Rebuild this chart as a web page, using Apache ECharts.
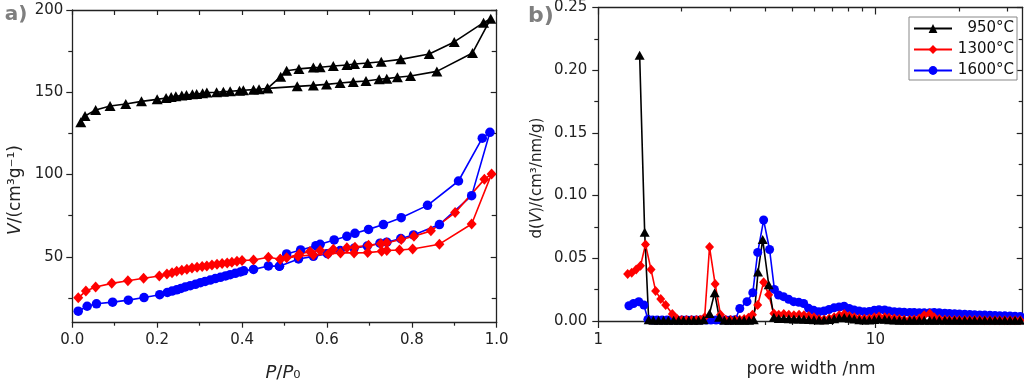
<!DOCTYPE html>
<html><head><meta charset="utf-8">
<script src="https://cdn.jsdelivr.net/npm/echarts@6/dist/echarts.min.js"></script>
<style>html,body{margin:0;padding:0;background:#fff}#c{width:1024px;height:386px}</style>
</head><body><div id="c"></div>
<script>
const names = ['950°C', '1300°C', '1600°C'];
const colors = ['#000000', '#ff0000', '#0000ff'];
const symbols = ['triangle', 'diamond', 'circle'];

// ---- (a) N2 isotherms: relative pressure P/P0, V (cm3/g) ----
const p950Ads = [0.020,0.030,0.055,0.089,0.126,0.163,0.200,0.221,0.233,0.244,0.258,0.269,0.283,0.293,0.307,0.317,0.340,0.356,0.372,0.394,0.403,0.427,0.440,0.460,0.530,0.568,0.599,0.631,0.662,0.692,0.723,0.741,0.766,0.797,0.859,0.943,0.986];
const v950Ads = [131.8,135.6,139.3,141.7,142.9,144.5,145.7,146.5,147.1,147.6,148.0,148.4,148.8,149.0,149.4,149.8,150.0,150.4,150.6,151.0,151.2,151.6,151.8,152.4,153.6,154.2,154.8,155.6,156.3,156.9,157.9,158.3,159.1,159.9,162.7,173.9,194.7];
const p950Des = [0.969,0.900,0.841,0.774,0.728,0.696,0.665,0.647,0.615,0.584,0.568,0.534,0.505,0.491,0.460];
const v950Des = [192.3,180.6,173.3,170.0,168.6,167.8,167.2,166.6,166.0,165.2,165.0,164.2,163.1,159.5,152.4];

const p1300Ads = [0.014,0.032,0.055,0.093,0.131,0.168,0.205,0.223,0.235,0.246,0.258,0.270,0.282,0.294,0.306,0.317,0.329,0.341,0.353,0.365,0.376,0.388,0.400,0.427,0.462,0.490,0.532,0.568,0.603,0.632,0.664,0.696,0.729,0.741,0.771,0.802,0.865,0.941,0.988];
const v1300Ads = [25.1,29.2,31.7,33.9,35.5,37.0,38.4,39.6,40.4,41.2,41.9,42.5,43.3,43.7,44.1,44.5,45.1,45.5,45.9,46.3,46.8,47.4,47.8,48.1,49.8,48.6,50.4,51.2,51.8,52.4,52.4,52.6,53.4,53.9,54.2,54.8,57.7,70.0,100.4];
const p1300Des = [0.971,0.902,0.845,0.805,0.775,0.741,0.727,0.698,0.666,0.647,0.615,0.584,0.560,0.535,0.505,0.490];
const v1300Des = [97.1,76.9,65.8,62.5,60.5,58.6,58.0,57.0,55.9,55.5,54.6,53.8,53.2,51.8,49.5,48.6];

const p1600Ads = [0.014,0.035,0.057,0.095,0.132,0.169,0.206,0.224,0.235,0.246,0.256,0.266,0.278,0.290,0.302,0.313,0.325,0.337,0.349,0.361,0.372,0.384,0.396,0.404,0.427,0.462,0.488,0.533,0.568,0.601,0.631,0.664,0.695,0.725,0.741,0.774,0.804,0.865,0.941,0.984];
const v1600Ads = [17.0,20.0,21.5,22.5,23.7,25.3,27.0,28.4,29.2,30.0,30.8,31.7,32.5,33.3,34.3,35.1,35.9,36.8,37.6,38.4,39.2,40.0,40.8,41.5,42.4,44.5,44.3,48.7,50.3,51.9,53.8,55.2,56.6,58.3,58.9,61.1,63.3,69.6,87.2,125.7];
const p1600Des = [0.966,0.910,0.837,0.775,0.733,0.698,0.666,0.647,0.617,0.584,0.574,0.538,0.505,0.488];
const v1600Des = [122.1,96.1,81.3,73.8,69.6,66.7,64.3,62.5,60.3,57.6,56.8,54.2,51.8,44.3];

// ---- (b) pore size distribution: pore width (nm), dV ----
const w950 = [1.41,1.47,1.52,1.58,1.65,1.72,1.79,1.87,1.95,2.03,2.12,2.21,2.30,2.40,2.52,2.63,2.73,2.85,2.97,3.10,3.23,3.36,3.50,3.64,3.77,3.92,4.12,4.30,4.48,4.67,4.87,5.08,5.30,5.52,5.75,6.00,6.26,6.53,6.81,7.10,7.40,7.72,8.05,8.39,8.75,9.12,9.51,9.91,10.3,10.8,11.2,11.7,12.2,12.7,13.3,13.8,14.4,15.0,15.7,16.3,17.0,17.8,18.5,19.3,20.1,21.0,21.9,22.8,23.8,24.8,25.9,27.0,28.1,29.3,30.6,31.9,33.3];
const d950 = [0.212,0.0707,0.0010,0.0005,0.0005,0.0005,0.0005,0.0005,0.0005,0.0005,0.0005,0.0005,0.0005,0.0010,0.0060,0.0225,0.0030,0.0005,0.0005,0.0005,0.0005,0.0005,0.0005,0.0010,0.0390,0.0650,0.0290,0.0030,0.0020,0.0020,0.0018,0.0016,0.0015,0.0014,0.0012,0.0010,0.0008,0.0008,0.0012,0.0018,0.0025,0.0028,0.0022,0.0015,0.0010,0.0008,0.0008,0.0012,0.0016,0.0014,0.0010,0.0008,0.0006,0.0005,0.0005,0.0005,0.0005,0.0005,0.0005,0.0005,0.0005,0.0005,0.0005,0.0005,0.0005,0.0005,0.0005,0.0005,0.0005,0.0005,0.0005,0.0005,0.0005,0.0005,0.0005,0.0005,0.0005];

const w1300 = [1.276,1.32,1.37,1.42,1.48,1.55,1.61,1.68,1.75,1.85,1.92,2.00,2.08,2.17,2.26,2.33,2.42,2.52,2.64,2.76,2.88,3.00,3.12,3.24,3.36,3.48,3.60,3.76,3.95,4.12,4.30,4.48,4.67,4.87,5.08,5.30,5.52,5.75,6.00,6.26,6.53,6.81,7.10,7.40,7.72,8.05,8.39,8.75,9.12,9.51,9.91,10.3,10.8,11.2,11.7,12.2,12.7,13.3,13.8,14.4,15.0,15.7,16.3,17.0,17.8,18.5,19.3,20.1,21.0,21.9,22.8,23.8,24.8,25.9,27.0,28.1,29.3,30.6,31.9,33.3];
const d1300 = [0.0375,0.0385,0.0410,0.0440,0.0610,0.0410,0.0240,0.0175,0.0128,0.0056,0.0020,0.0008,0.0008,0.0008,0.0008,0.0010,0.0030,0.0590,0.0295,0.0050,0.0010,0.0008,0.0008,0.0010,0.0015,0.0025,0.0050,0.0128,0.0310,0.0210,0.0060,0.0050,0.0055,0.0050,0.0045,0.0050,0.0045,0.0040,0.0030,0.0015,0.0012,0.0020,0.0030,0.0045,0.0055,0.0040,0.0030,0.0020,0.0018,0.0020,0.0030,0.0035,0.0030,0.0025,0.0020,0.0015,0.0010,0.0010,0.0012,0.0020,0.0045,0.0060,0.0030,0.0015,0.0010,0.0008,0.0008,0.0008,0.0008,0.0007,0.0007,0.0007,0.0006,0.0006,0.0006,0.0006,0.0006,0.0006,0.0006,0.0006];

const w1600 = [1.29,1.34,1.40,1.46,1.51,1.57,1.63,1.70,1.77,1.84,1.92,2.00,2.08,2.17,2.26,2.35,2.45,2.55,2.66,2.77,2.88,3.00,3.12,3.24,3.44,3.61,3.76,3.95,4.15,4.32,4.47,4.66,4.86,5.07,5.29,5.51,5.74,5.99,6.25,6.52,6.80,7.09,7.39,7.71,8.04,8.38,8.74,9.11,9.50,9.90,10.3,10.8,11.2,11.7,12.2,12.7,13.3,13.8,14.4,15.0,15.7,16.3,17.0,17.8,18.5,19.3,20.1,21.0,21.9,22.8,23.8,24.8,25.9,27.0,28.1,29.3,30.6,31.9,33.3];
const d1600 = [0.0122,0.0140,0.0154,0.0128,0.0013,0.0008,0.0008,0.0008,0.0008,0.0008,0.0008,0.0008,0.0008,0.0008,0.0008,0.0008,0.0008,0.0008,0.0008,0.0008,0.0008,0.0008,0.0010,0.0100,0.0154,0.0226,0.0547,0.0805,0.0570,0.0252,0.0207,0.0194,0.0173,0.0154,0.0149,0.0140,0.0101,0.0085,0.0074,0.0080,0.0092,0.0105,0.0112,0.0118,0.0100,0.0088,0.0080,0.0074,0.0076,0.0085,0.0090,0.0088,0.0080,0.0074,0.0072,0.0070,0.0068,0.0068,0.0066,0.0065,0.0066,0.0068,0.0066,0.0062,0.0060,0.0058,0.0056,0.0054,0.0052,0.0050,0.0048,0.0047,0.0046,0.0044,0.0042,0.0041,0.0040,0.0038,0.0036];

// ---- ticks ----
const aYLabels = [50, 100, 150, 200];
const aYMinor = [25, 75, 125, 175];
const bXLabels = [1, 10];
const bXMinor = [2, 3, 4, 5, 6, 7, 8, 9, 20, 30];

const FONT = 'DejaVu Sans';
const AX = '#222';
const pairs = (xs, ys) => xs.map((x, i) => [x, ys[i]]);
const lg = v => Math.log10(v);

const baseLine = { show: true, onZero: false, lineStyle: { color: AX, width: 1.3 } };
const noLine = { show: false, onZero: false };
const lbl = (extra) => Object.assign({ fontFamily: FONT, fontSize: 15, color: AX }, extra);

function tick(len, inside) { return { show: true, length: len, inside: !!inside, lineStyle: { color: AX, width: 1.2 } }; }

const chart = echarts.init(document.getElementById('c'), null, { renderer: 'canvas' });

const xAxes = [
  // (a) bottom
  { gridIndex: 0, type: 'value', min: 0, max: 1, interval: 0.2, position: 'bottom',
    axisLine: baseLine, axisTick: tick(5), minorTick: { show: true, splitNumber: 2, length: 3, lineStyle: { color: AX, width: 1.2 } },
    axisLabel: lbl({ margin: 10, formatter: v => v.toFixed(1) }), splitLine: { show: false }, minorSplitLine: { show: false } },
  // (a) top
  { gridIndex: 0, type: 'value', min: 0, max: 1, interval: 0.2, position: 'top',
    axisLine: baseLine, axisTick: tick(5, true), minorTick: { show: true, splitNumber: 2, length: 5, lineStyle: { color: AX, width: 1.2 } },
    axisLabel: { show: false }, splitLine: { show: false } },
  // (b) log axis used by series
  { gridIndex: 1, type: 'log', logBase: 10, min: 1, max: 34, show: false, splitLine: { show: false } },
  // (b) bottom major
  { gridIndex: 1, type: 'value', min: 0, max: lg(34), position: 'bottom',
    axisLine: baseLine, axisTick: Object.assign(tick(7), { customValues: bXLabels.map(lg) }),
    axisLabel: lbl({ margin: 12, customValues: bXLabels.map(lg), formatter: v => String(Math.round(Math.pow(10, v))) }),
    splitLine: { show: false } },
  // (b) bottom minor
  { gridIndex: 1, type: 'value', min: 0, max: lg(34), position: 'bottom',
    axisLine: noLine, axisTick: Object.assign(tick(4), { customValues: bXMinor.map(lg) }),
    axisLabel: { show: false }, splitLine: { show: false } },
  // (b) top major
  { gridIndex: 1, type: 'value', min: 0, max: lg(34), position: 'top',
    axisLine: baseLine, axisTick: Object.assign(tick(7, true), { customValues: bXLabels.map(lg) }),
    axisLabel: { show: false }, splitLine: { show: false } },
  // (b) top minor
  { gridIndex: 1, type: 'value', min: 0, max: lg(34), position: 'top',
    axisLine: noLine, axisTick: Object.assign(tick(4, true), { customValues: bXMinor.map(lg) }),
    axisLabel: { show: false }, splitLine: { show: false } }
];

const yAxes = [
  // (a) left major + labels
  { gridIndex: 0, type: 'value', min: 10, max: 200, position: 'left',
    axisLine: baseLine, axisTick: Object.assign(tick(6), { customValues: aYLabels }),
    axisLabel: lbl({ margin: 9, customValues: aYLabels }), splitLine: { show: false } },
  // (a) left minor
  { gridIndex: 0, type: 'value', min: 10, max: 200, position: 'left',
    axisLine: noLine, axisTick: Object.assign(tick(4), { customValues: aYMinor }),
    axisLabel: { show: false }, splitLine: { show: false } },
  // (a) right major
  { gridIndex: 0, type: 'value', min: 10, max: 200, position: 'right',
    axisLine: baseLine, axisTick: Object.assign(tick(6, true), { customValues: aYLabels }),
    axisLabel: { show: false }, splitLine: { show: false } },
  // (a) right minor
  { gridIndex: 0, type: 'value', min: 10, max: 200, position: 'right',
    axisLine: noLine, axisTick: Object.assign(tick(5, true), { customValues: aYMinor }),
    axisLabel: { show: false }, splitLine: { show: false } },
  // (b) left
  { gridIndex: 1, type: 'value', min: 0, max: 0.25, interval: 0.05, position: 'left',
    axisLine: baseLine, axisTick: tick(6), minorTick: { show: true, splitNumber: 2, length: 4, lineStyle: { color: AX, width: 1.2 } },
    axisLabel: lbl({ margin: 11, formatter: v => v.toFixed(2) }), splitLine: { show: false }, minorSplitLine: { show: false } },
  // (b) right
  { gridIndex: 1, type: 'value', min: 0, max: 0.25, interval: 0.05, position: 'right',
    axisLine: baseLine, axisTick: tick(6, true), minorTick: { show: true, splitNumber: 2, length: 4, lineStyle: { color: AX, width: 1.2 } },
    axisLabel: { show: false }, splitLine: { show: false }, minorSplitLine: { show: false } }
];

function mk(i, data, xi, yi, size) {
  return {
    type: 'line', name: names[i], xAxisIndex: xi, yAxisIndex: yi, data: data,
    symbol: symbols[i], symbolSize: size, showAllSymbol: true,
    itemStyle: { color: colors[i], borderWidth: 0 },
    lineStyle: { color: colors[i], width: 1.6 },
    emphasis: { disabled: true }, animation: false
  };
}

const aSize = [[11, 10], [10, 11], 9.5];
const bSize = [[10, 9], [9, 10], 9];

const series = [
  mk(2, pairs(p1600Ads, v1600Ads).concat(pairs(p1600Des, v1600Des)), 0, 0, aSize[2]),
  mk(1, pairs(p1300Ads, v1300Ads).concat(pairs(p1300Des, v1300Des)), 0, 0, aSize[1]),
  mk(0, pairs(p950Ads, v950Ads).concat(pairs(p950Des, v950Des)), 0, 0, aSize[0]),
  mk(2, pairs(w1600, d1600), 2, 4, bSize[2]),
  mk(1, pairs(w1300, d1300), 2, 4, bSize[1]),
  mk(0, pairs(w950, d950), 2, 4, bSize[0])
];

const txt = (x, y, text, size, extra) => ({
  type: 'text', x: x, y: y, silent: true,
  style: Object.assign({ text: text, fontFamily: FONT, fontSize: size, fill: AX, align: 'center', verticalAlign: 'middle' }, extra || {})
});

chart.setOption({
  animation: false,
  backgroundColor: '#fff',
  grid: [
    { left: 72.3, top: 10, right: 527.3, bottom: 63.3, containLabel: false },
    { left: 598.3, top: 7.3, right: 1.3, bottom: 65, containLabel: false }
  ],
  xAxis: xAxes,
  yAxis: yAxes,
  legend: {
    data: names, orient: 'vertical', left: 909, top: 17,
    padding: [4, 3, 2, 4], itemGap: 6, itemWidth: 38, itemHeight: 11,
    borderColor: '#888', borderWidth: 1, backgroundColor: '#fff',
    selectedMode: false,
    formatter: '{t|{name}}',
    textStyle: { fontFamily: FONT, fontSize: 15, color: '#111', lineHeight: 15,
      rich: { t: { width: 57, align: 'right', fontFamily: FONT, fontSize: 15, color: '#111', lineHeight: 15 } } }
  },
  graphic: [
    txt(16, 15, 'a)', 20, { fontWeight: 'bold', fill: '#7f7f7f' }),
    txt(541, 16, 'b)', 22, { fontWeight: 'bold', fill: '#7f7f7f' }),
    txt(16, 190, '{i|V}/(cm³g⁻¹)', 17, { rich: { i: { fontStyle: 'italic', fontFamily: FONT, fontSize: 17, fill: AX } } }),
    txt(283, 373, '{i|P}/{i|P}₀', 18, { rich: { i: { fontStyle: 'italic', fontFamily: FONT, fontSize: 18, fill: AX } } }),
    txt(537, 178, 'd({i|V})/(cm³/nm/g)', 15, { rich: { i: { fontStyle: 'italic', fontFamily: FONT, fontSize: 15, fill: AX } } }),
    txt(811, 370, 'pore width /nm', 17)
  ].map((g, k) => (k === 2 || k === 4) ? Object.assign(g, { rotation: Math.PI / 2 }) : g),
  series: series
});
</script>
</body></html>
